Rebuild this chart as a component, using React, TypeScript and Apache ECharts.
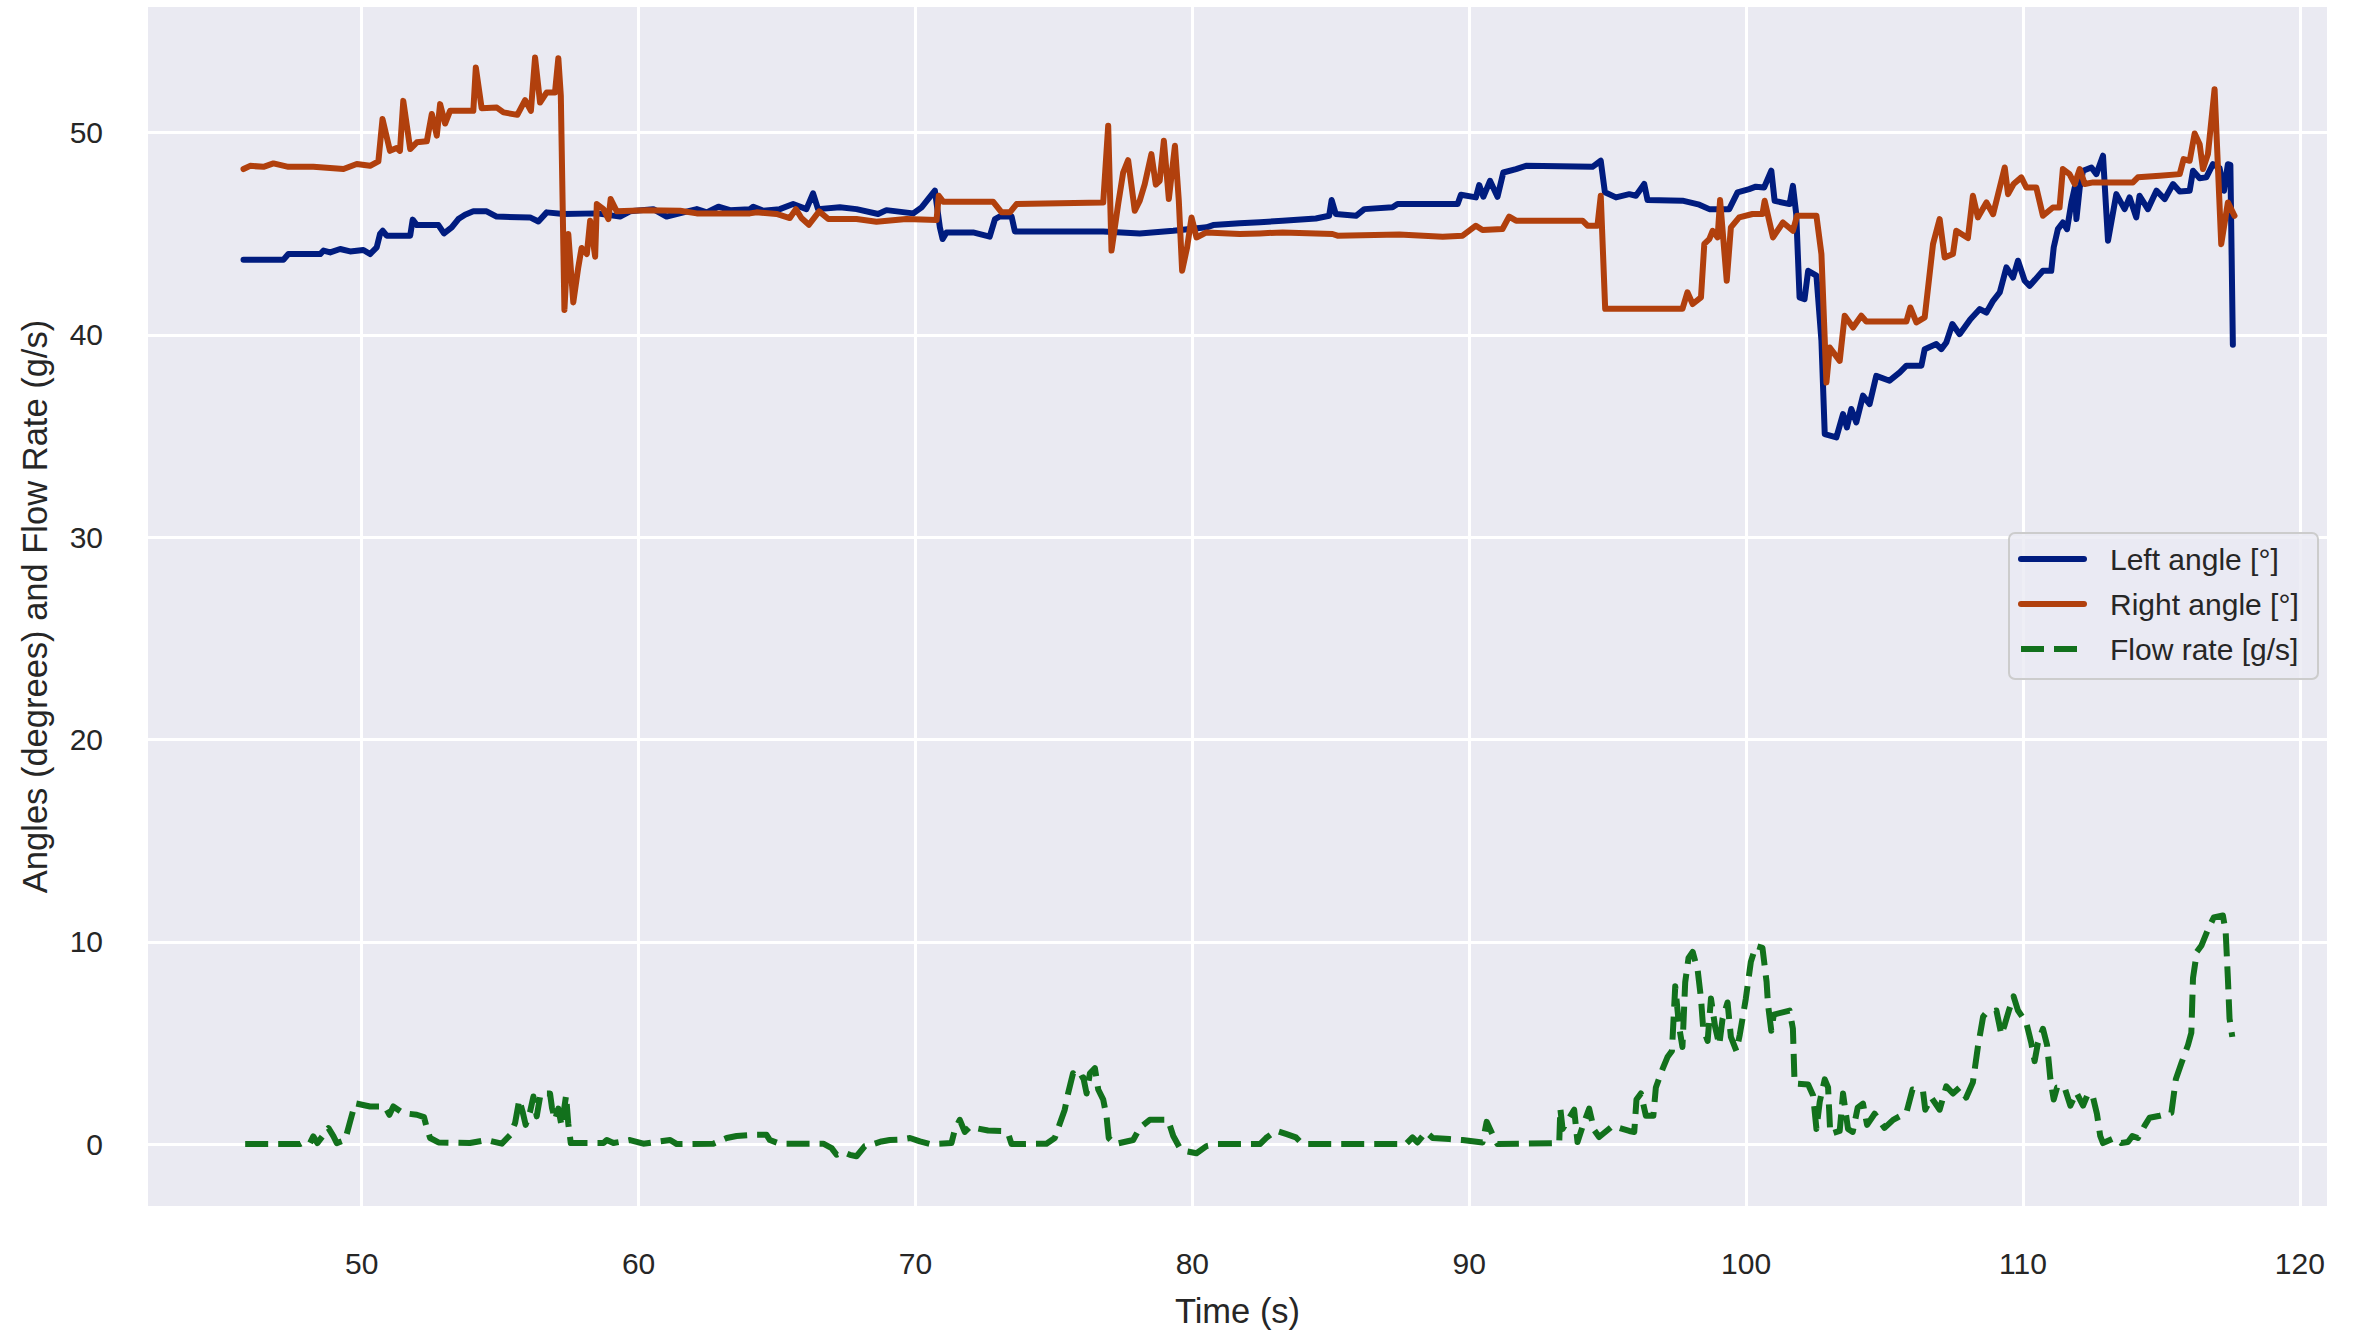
import React, { useEffect, useRef } from "react";
import * as echarts from "echarts";

// Time stamps (s) and readings for each trace
const leftTime = [
  45.73, 47.17, 47.35, 48.5, 48.62, 48.86, 49.22, 49.58, 50.06, 50.3, 50.54, 50.66, 50.76, 50.9, 51.75, 51.84,
  51.99, 52.77, 52.97, 53.25, 53.49, 53.73, 54.03, 54.51, 54.87, 56.08, 56.38, 56.68, 57.28, 58.49, 59.33, 59.69,
  60.53, 61.01, 61.62, 62.1, 62.46, 62.88, 63.3, 64.02, 64.14, 64.5, 65.1, 65.58, 66.06, 66.3, 66.48, 67.27,
  67.87, 68.65, 68.95, 69.92, 70.22, 70.7, 70.88, 70.98, 71.12, 72.08, 72.68, 72.87, 73.05, 73.47, 73.59, 76.78,
  78.1, 79.31, 80.51, 80.75, 81.71, 82.44, 83.26, 84.46, 84.94, 85.03, 85.18, 85.91, 86.21, 87.23, 87.41, 89.58,
  89.7, 90.24, 90.36, 90.51, 90.75, 91.02, 91.23, 91.69, 92.05, 94.45, 94.75, 94.9, 95.3, 95.78, 96.02, 96.32,
  96.44, 97.7, 98.31, 98.67, 99.39, 99.69, 100.11, 100.35, 100.65, 100.91, 101.03, 101.57, 101.69, 101.81, 101.93, 102.11,
  102.24, 102.54, 102.72, 102.84, 103.26, 103.5, 103.64, 103.8, 103.98, 104.22, 104.46, 104.7, 105.18, 105.55, 105.79, 106.33,
  106.45, 106.87, 107.05, 107.23, 107.45, 107.71, 108.1, 108.44, 108.68, 108.92, 109.16, 109.4, 109.64, 109.82, 110.06, 110.24,
  110.72, 111.02, 111.11, 111.26, 111.44, 111.59, 111.75, 111.87, 111.93, 112.05, 112.17, 112.47, 112.65, 112.89, 113.07, 113.37,
  113.67, 113.85, 114.09, 114.21, 114.51, 114.82, 115.12, 115.42, 115.66, 116.02, 116.14, 116.38, 116.62, 116.86, 117.1, 117.26,
  117.4, 117.49, 117.58,
];
const leftAngle = [
  43.71, 43.71, 43.99, 43.99, 44.16, 44.07, 44.24, 44.12, 44.19, 43.99, 44.32, 44.98, 45.14, 44.9, 44.9, 45.69,
  45.42, 45.42, 45.01, 45.31, 45.72, 45.93, 46.1, 46.1, 45.84, 45.8, 45.6, 46.05, 45.97, 46.0, 45.84, 46.1,
  46.21, 45.84, 46.05, 46.21, 46.05, 46.33, 46.16, 46.21, 46.33, 46.13, 46.21, 46.46, 46.21, 46.99, 46.21, 46.3,
  46.21, 45.97, 46.16, 46.0, 46.3, 47.12, 45.31, 44.73, 45.06, 45.06, 44.85, 45.72, 45.85, 45.85, 45.11, 45.11,
  45.01, 45.14, 45.31, 45.42, 45.51, 45.56, 45.64, 45.75, 45.88, 46.66, 45.97, 45.88, 46.21, 46.3, 46.46, 46.46,
  46.92, 46.79, 47.4, 46.82, 47.61, 46.82, 48.02, 48.19, 48.35, 48.3, 48.6, 47.04, 46.79, 46.95, 46.87, 47.45,
  46.66, 46.63, 46.43, 46.21, 46.21, 47.04, 47.2, 47.32, 47.28, 48.11, 46.62, 46.46, 47.36, 45.96, 41.85, 41.76,
  43.16, 42.92, 39.7, 35.09, 34.93, 36.08, 35.42, 36.33, 35.67, 36.99, 36.57, 37.97, 37.73, 38.14, 38.47, 38.47,
  39.29, 39.54, 39.29, 39.62, 40.53, 40.03, 40.77, 41.27, 41.1, 41.68, 42.09, 43.33, 42.83, 43.66, 42.67, 42.42,
  43.16, 43.16, 44.32, 45.22, 45.55, 45.22, 46.54, 47.28, 45.72, 47.28, 48.11, 48.27, 47.94, 48.85, 44.65, 46.95,
  46.21, 46.79, 45.8, 46.87, 46.21, 47.12, 46.71, 47.45, 47.08, 47.12, 48.11, 47.74, 47.78, 48.43, 48.24, 47.12,
  48.43, 48.4, 39.51,
];

const rightTime = [
  45.73, 45.97, 46.45, 46.81, 47.35, 48.25, 49.34, 49.82, 50.3, 50.6, 50.75, 51.02, 51.26, 51.38, 51.5, 51.75,
  51.99, 52.35, 52.53, 52.71, 52.83, 53.01, 53.19, 54.03, 54.12, 54.33, 54.88, 55.12, 55.62, 55.9, 56.11, 56.26,
  56.44, 56.68, 56.98, 57.1, 57.19, 57.32, 57.46, 57.64, 57.82, 57.94, 58.13, 58.25, 58.43, 58.49, 58.73, 58.91,
  58.99, 59.21, 60.29, 61.5, 62.1, 64.02, 64.26, 64.98, 65.46, 65.68, 65.88, 66.15, 66.52, 66.85, 67.87, 68.59,
  69.67, 70.76, 70.84, 71.0, 72.8, 73.11, 73.41, 73.65, 76.78, 76.96, 77.08, 77.32, 77.5, 77.68, 77.92, 78.1,
  78.28, 78.52, 78.68, 78.82, 78.97, 79.15, 79.37, 79.51, 79.63, 79.81, 79.97, 80.15, 80.51, 81.71, 82.44, 83.26,
  85.06, 85.24, 87.47, 89.04, 89.76, 90.24, 90.48, 91.2, 91.44, 91.69, 94.09, 94.27, 94.63, 94.75, 94.91, 96.5,
  97.7, 97.88, 98.07, 98.37, 98.49, 98.67, 98.79, 98.97, 99.06, 99.3, 99.45, 99.75, 100.23, 100.59, 100.67, 100.97,
  101.33, 101.69, 101.84, 102.54, 102.72, 102.9, 103.02, 103.38, 103.56, 103.86, 104.16, 104.34, 105.79, 105.93, 106.15, 106.45,
  106.75, 106.99, 107.17, 107.47, 107.59, 108.01, 108.19, 108.37, 108.68, 108.92, 109.1, 109.34, 109.46, 109.66, 109.94, 110.12,
  110.48, 110.72, 111.08, 111.32, 111.44, 111.68, 111.87, 112.05, 112.23, 112.53, 113.97, 114.15, 114.94, 115.66, 115.8, 116.02,
  116.2, 116.38, 116.5, 116.68, 116.92, 117.16, 117.4, 117.64,
];
const rightAngle = [
  48.19, 48.35, 48.3, 48.47, 48.3, 48.3, 48.19, 48.44, 48.35, 48.57, 50.66, 49.09, 49.23, 49.09, 51.56, 49.18,
  49.51, 49.56, 50.91, 49.84, 51.4, 50.44, 51.07, 51.07, 53.21, 51.2, 51.23, 50.99, 50.87, 51.6, 51.07, 53.7,
  51.48, 51.98, 51.98, 53.67, 51.81, 41.23, 44.98, 41.6, 43.33, 44.29, 43.99, 45.64, 43.86, 46.46, 46.21, 45.72,
  46.71, 46.1, 46.16, 46.13, 46.0, 46.0, 46.05, 45.97, 45.77, 46.21, 45.77, 45.44, 46.1, 45.72, 45.72, 45.59,
  45.72, 45.67, 46.87, 46.58, 46.58, 46.05, 46.05, 46.46, 46.54, 50.33, 44.16, 46.46, 48.02, 48.63, 46.13, 46.63,
  47.45, 48.93, 47.42, 47.61, 49.59, 46.71, 49.34, 46.63, 43.17, 44.32, 45.8, 44.81, 45.06, 44.98, 45.01, 45.06,
  44.98, 44.9, 44.95, 44.85, 44.9, 45.39, 45.18, 45.23, 45.84, 45.64, 45.64, 45.39, 45.39, 46.87, 41.28, 41.28,
  41.28, 42.1, 41.52, 41.85, 44.49, 44.73, 45.14, 44.81, 46.66, 42.67, 45.31, 45.8, 45.97, 45.97, 46.62, 44.81,
  45.55, 45.14, 45.88, 45.88, 43.99, 37.64, 39.37, 38.71, 40.94, 40.36, 40.94, 40.66, 40.66, 41.35, 40.61, 40.86,
  44.48, 45.72, 43.82, 43.99, 45.14, 44.78, 46.87, 45.8, 46.54, 45.96, 46.95, 48.27, 46.95, 47.45, 47.78, 47.28,
  47.28, 45.88, 46.29, 46.29, 48.19, 47.94, 47.45, 48.19, 47.45, 47.53, 47.53, 47.78, 47.86, 47.94, 48.68, 48.6,
  49.95, 49.42, 48.19, 48.93, 52.14, 44.48, 46.54, 45.88,
];

const flowTime = [
  45.79, 47.77, 47.95, 48.13, 48.25, 48.4, 48.8, 48.98, 49.1, 49.4, 49.58, 49.76, 50.3, 50.84, 51.0, 51.14,
  51.5, 51.99, 52.25, 52.35, 52.47, 52.77, 53.91, 54.51, 55.06, 55.36, 55.54, 55.69, 55.81, 55.92, 56.08, 56.2,
  56.32, 56.46, 56.8, 56.87, 56.98, 57.1, 57.22, 57.38, 57.46, 57.55, 58.73, 58.85, 59.09, 59.69, 60.17, 61.14,
  61.38, 62.7, 63.18, 63.54, 64.14, 64.62, 64.74, 65.1, 66.67, 66.97, 67.15, 67.39, 67.63, 67.87, 68.17, 68.47,
  68.77, 69.07, 69.43, 69.8, 70.16, 70.52, 71.3, 71.42, 71.6, 71.78, 71.96, 72.62, 73.17, 73.35, 73.47, 74.73,
  75.03, 75.21, 75.39, 75.51, 75.69, 75.87, 76.06, 76.18, 76.3, 76.48, 76.6, 76.78, 76.9, 76.98, 77.2, 77.86,
  78.1, 78.46, 79.12, 79.31, 79.55, 79.79, 80.15, 80.51, 80.87, 82.44, 82.66, 83.02, 83.38, 83.74, 83.98, 87.71,
  87.95, 88.13, 88.44, 88.68, 89.28, 89.76, 90.48, 90.63, 90.9, 91.02, 93.25, 93.29, 93.37, 93.79, 93.91, 94.09,
  94.33, 94.51, 94.69, 95.18, 95.78, 95.96, 96.04, 96.2, 96.38, 96.65, 96.74, 96.98, 97.16, 97.32, 97.44, 97.58,
  97.7, 97.8, 97.92, 98.07, 98.25, 98.37, 98.45, 98.61, 98.73, 98.88, 99.03, 99.15, 99.33, 99.45, 99.65, 99.77,
  99.87, 99.99, 100.17, 100.35, 100.59, 100.74, 100.79, 100.91, 101.0, 101.57, 101.69, 101.75, 102.24, 102.42, 102.54, 102.66,
  102.84, 102.96, 103.04, 103.38, 103.5, 103.68, 103.85, 104.03, 104.22, 104.37, 104.64, 105.0, 105.31, 105.79, 106.01, 106.39,
  106.47, 106.69, 106.99, 107.23, 107.47, 107.71, 107.95, 108.19, 108.37, 108.56, 108.68, 109.04, 109.22, 109.34, 109.49, 109.66,
  109.82, 110.12, 110.3, 110.42, 110.54, 110.72, 110.87, 110.99, 111.11, 111.23, 111.5, 111.71, 111.93, 112.17, 112.35, 112.53,
  112.67, 112.79, 112.89, 113.31, 113.55, 113.79, 113.95, 114.15, 114.39, 114.57, 114.94, 115.36, 115.52, 115.72, 115.96, 116.08,
  116.14, 116.28, 116.44, 116.68, 116.89, 117.22, 117.32, 117.4, 117.46, 117.56,
];
const flowRate = [
  0.0, 0.0, 0.13, 0.05, 0.38, 0.05, 0.79, 0.38, 0.05, 0.2, 1.12, 2.02, 1.86, 1.86, 1.45, 1.86,
  1.53, 1.45, 1.33, 0.79, 0.3, 0.08, 0.05, 0.2, 0.02, 0.45, 1.05, 2.2, 1.6, 0.95, 1.6, 2.35,
  1.37, 2.5, 2.5, 1.8, 1.2, 1.75, 0.88, 2.4, 1.0, 0.05, 0.05, 0.2, 0.05, 0.2, 0.02, 0.2,
  0.0, 0.02, 0.3, 0.4, 0.46, 0.46, 0.2, 0.02, 0.02, -0.2, -0.53, -0.4, -0.53, -0.6, -0.1, 0.0,
  0.13, 0.2, 0.22, 0.3, 0.13, 0.0, 0.05, 0.7, 1.2, 0.6, 0.85, 0.67, 0.65, 0.5, 0.0, 0.02,
  0.3, 1.0, 1.7, 2.5, 3.5, 3.15, 3.3, 2.5, 3.5, 3.75, 2.7, 2.2, 1.37, 0.3, 0.0, 0.2,
  0.8, 1.2, 1.2, 0.4, -0.2, -0.36, -0.45, -0.1, 0.0, 0.0, 0.3, 0.66, 0.5, 0.33, 0.0, 0.0,
  0.33, 0.08, 0.6, 0.3, 0.25, 0.2, 0.08, 1.1, 0.3, 0.0, 0.05, 1.75, 0.75, 1.7, 0.1, 0.85,
  1.75, 0.7, 0.35, 0.9, 0.65, 0.6, 2.2, 2.5, 1.4, 1.4, 2.8, 3.7, 4.3, 4.6, 7.8, 5.8,
  4.8, 8.0, 9.2, 9.5, 8.6, 7.2, 5.7, 5.1, 7.2, 5.8, 4.9, 6.2, 7.0, 5.3, 4.6, 5.4,
  6.2, 7.2, 9.0, 9.8, 9.7, 8.0, 6.9, 5.6, 6.4, 6.6, 5.7, 3.0, 2.95, 2.4, 0.75, 2.1,
  3.2, 2.8, 0.5, 0.65, 2.5, 0.75, 0.6, 1.8, 2.0, 0.95, 1.5, 0.8, 1.2, 1.55, 2.7, 2.6,
  1.7, 2.3, 1.7, 2.85, 2.5, 2.8, 2.3, 3.05, 4.8, 6.3, 6.5, 6.6, 5.4, 5.9, 6.6, 7.3,
  6.6, 6.0, 5.0, 4.1, 5.0, 5.7, 4.9, 3.2, 2.2, 2.8, 2.8, 1.9, 2.55, 1.9, 2.5, 2.3,
  1.5, 0.4, 0.05, 0.3, 0.05, 0.1, 0.4, 0.3, 0.9, 1.3, 1.4, 1.55, 3.2, 4.0, 4.9, 5.5,
  8.2, 9.5, 9.8, 10.6, 11.2, 11.3, 10.5, 8.2, 6.2, 5.3,
];

const seriesNames = ["Left angle [°]", "Right angle [°]", "Flow rate [g/s]"];
const seriesColors = ["#001c7f", "#b1400d", "#12711c"];

const FONT = "'Liberation Sans', Arial, sans-serif";
const TEXT = "#262626";
const LINE_W = 6;
const FLOW_DASH = [23, 10];

const pairs = (xs: number[], ys: number[]) => xs.map((x, i) => [x, ys[i]]);

// Legend box drawn as graphics so the key lines match the series strokes
function legendGraphics() {
  const boxX = 2009;
  const boxY = 533;
  const rowY = [559, 604, 649];
  const items: any[] = [
    {
      type: "rect",
      shape: { x: boxX, y: boxY, width: 309, height: 146, r: 6 },
      style: { fill: "rgba(234,234,242,0.8)", stroke: "#cccccc", lineWidth: 2 },
      z: 100,
    },
  ];
  seriesNames.forEach((name, i) => {
    const dashed = i === 2;
    items.push({
      type: "line",
      shape: { x1: dashed ? 2021 : 2021, y1: rowY[i], x2: dashed ? 2081 : 2084, y2: rowY[i] },
      style: {
        stroke: seriesColors[i],
        lineWidth: LINE_W,
        lineCap: dashed ? "butt" : "round",
        lineDash: dashed ? FLOW_DASH : null,
      },
      z: 101,
    });
    items.push({
      type: "text",
      x: 2110,
      y: rowY[i],
      style: {
        text: name,
        fontSize: 30,
        fontFamily: FONT,
        fill: TEXT,
        align: "left",
        verticalAlign: "middle",
      },
      z: 101,
    });
  });
  return items;
}

export default function App() {
  const ref = useRef<HTMLDivElement>(null);

  useEffect(() => {
    if (!ref.current) return;
    const chart = echarts.init(ref.current, null, { renderer: "svg" });
    chart.setOption({
      animation: false,
      backgroundColor: "#ffffff",
      grid: {
        left: 148,
        top: 7,
        width: 2179,
        height: 1200,
        show: true,
        backgroundColor: "#eaeaf2",
        borderWidth: 0,
      },
      xAxis: {
        type: "value",
        min: 42.28,
        max: 120.98,
        minInterval: 10,
        maxInterval: 10,
        axisLine: { show: false },
        axisTick: { show: false },
        axisLabel: {
          fontSize: 30,
          color: TEXT,
          fontFamily: FONT,
          margin: 42,
          showMinLabel: false,
          showMaxLabel: false,
        },
        splitLine: { show: true, showMinLine: false, showMaxLine: false, lineStyle: { color: "#ffffff", width: 3 } },
        name: "Time (s)",
        nameLocation: "middle",
        nameGap: 87,
        nameTextStyle: { fontSize: 34.5, color: TEXT, fontFamily: FONT },
      },
      yAxis: {
        type: "value",
        min: -3.06,
        max: 56.2,
        minInterval: 10,
        maxInterval: 10,
        axisLine: { show: false },
        axisTick: { show: false },
        axisLabel: {
          fontSize: 30,
          color: TEXT,
          fontFamily: FONT,
          margin: 45,
          showMinLabel: false,
          showMaxLabel: false,
        },
        splitLine: { show: true, showMinLine: false, showMaxLine: false, lineStyle: { color: "#ffffff", width: 3 } },
        name: "Angles (degrees) and Flow Rate (g/s)",
        nameLocation: "middle",
        nameGap: 96,
        nameTextStyle: { fontSize: 34.5, color: TEXT, fontFamily: FONT },
      },
      graphic: legendGraphics(),
      series: [
        {
          name: seriesNames[0],
          type: "line",
          symbol: "none",
          data: pairs(leftTime, leftAngle),
          lineStyle: { color: seriesColors[0], width: LINE_W, join: "round", cap: "round" },
          itemStyle: { color: seriesColors[0] },
          z: 2,
        },
        {
          name: seriesNames[1],
          type: "line",
          symbol: "none",
          data: pairs(rightTime, rightAngle),
          lineStyle: { color: seriesColors[1], width: LINE_W, join: "round", cap: "round" },
          itemStyle: { color: seriesColors[1] },
          z: 3,
        },
        {
          name: seriesNames[2],
          type: "line",
          symbol: "none",
          data: pairs(flowTime, flowRate),
          lineStyle: { color: seriesColors[2], width: LINE_W, type: FLOW_DASH, join: "round", cap: "butt" },
          itemStyle: { color: seriesColors[2] },
          z: 4,
        },
      ],
    });
    return () => chart.dispose();
  }, []);

  return (
    <div
      ref={ref}
      style={{ position: "fixed", left: 0, top: 0, width: 2354, height: 1333, background: "#ffffff" }}
    />
  );
}
